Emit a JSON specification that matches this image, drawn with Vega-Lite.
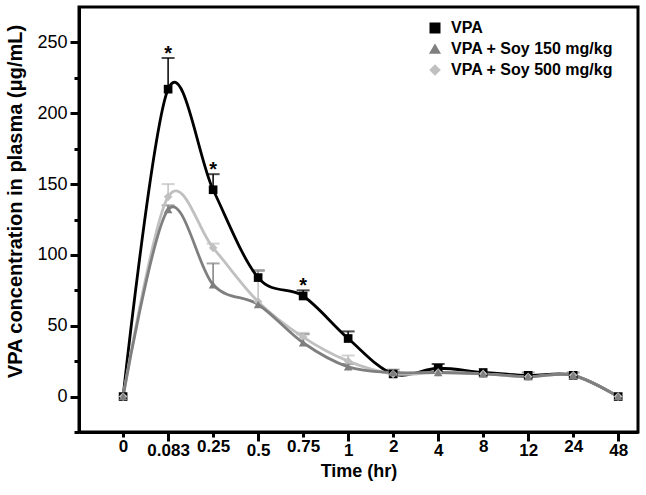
{
  "$schema": "https://vega.github.io/schema/vega-lite/v6.json",
  "width": 559,
  "height": 425,
  "autosize": {"type": "none"},
  "padding": {"left": 79, "top": 7, "right": 8, "bottom": 63},
  "background": "white",
  "config": {
    "font": "Liberation Sans",
    "view": {"stroke": "black", "strokeWidth": 3},
    "axis": {"grid": false, "domainColor": "black", "domainWidth": 3, "tickColor": "black", "tickWidth": 3, "labelColor": "black", "titleColor": "black"}
  },
  "data": {
    "values": [
      {"group": "VPA", "time": "0", "value": 0, "hi": null, "sig": ""},
      {"group": "VPA", "time": "0.083", "value": 217, "hi": 239, "sig": "*"},
      {"group": "VPA", "time": "0.25", "value": 146, "hi": 157, "sig": "*"},
      {"group": "VPA", "time": "0.5", "value": 84, "hi": 89, "sig": ""},
      {"group": "VPA", "time": "0.75", "value": 71, "hi": 75, "sig": "*"},
      {"group": "VPA", "time": "1", "value": 41, "hi": 46, "sig": ""},
      {"group": "VPA", "time": "2", "value": 16, "hi": 17, "sig": ""},
      {"group": "VPA", "time": "4", "value": 20, "hi": 23, "sig": ""},
      {"group": "VPA", "time": "8", "value": 17, "hi": null, "sig": ""},
      {"group": "VPA", "time": "12", "value": 15, "hi": null, "sig": ""},
      {"group": "VPA", "time": "24", "value": 15, "hi": null, "sig": ""},
      {"group": "VPA", "time": "48", "value": 0, "hi": null, "sig": ""},
      {"group": "VPA + Soy 500 mg/kg", "time": "0", "value": 0, "hi": null, "sig": ""},
      {"group": "VPA + Soy 500 mg/kg", "time": "0.083", "value": 141, "hi": 150, "sig": ""},
      {"group": "VPA + Soy 500 mg/kg", "time": "0.25", "value": 105, "hi": 108, "sig": ""},
      {"group": "VPA + Soy 500 mg/kg", "time": "0.5", "value": 67, "hi": 89, "sig": ""},
      {"group": "VPA + Soy 500 mg/kg", "time": "0.75", "value": 42, "hi": 45, "sig": ""},
      {"group": "VPA + Soy 500 mg/kg", "time": "1", "value": 25, "hi": 29, "sig": ""},
      {"group": "VPA + Soy 500 mg/kg", "time": "2", "value": 16, "hi": null, "sig": ""},
      {"group": "VPA + Soy 500 mg/kg", "time": "4", "value": 17, "hi": null, "sig": ""},
      {"group": "VPA + Soy 500 mg/kg", "time": "8", "value": 16, "hi": null, "sig": ""},
      {"group": "VPA + Soy 500 mg/kg", "time": "12", "value": 14, "hi": null, "sig": ""},
      {"group": "VPA + Soy 500 mg/kg", "time": "24", "value": 15, "hi": null, "sig": ""},
      {"group": "VPA + Soy 500 mg/kg", "time": "48", "value": 0, "hi": null, "sig": ""},
      {"group": "VPA + Soy 150 mg/kg", "time": "0", "value": 0, "hi": null, "sig": ""},
      {"group": "VPA + Soy 150 mg/kg", "time": "0.083", "value": 132, "hi": 135, "sig": ""},
      {"group": "VPA + Soy 150 mg/kg", "time": "0.25", "value": 79, "hi": 94, "sig": ""},
      {"group": "VPA + Soy 150 mg/kg", "time": "0.5", "value": 65, "hi": null, "sig": ""},
      {"group": "VPA + Soy 150 mg/kg", "time": "0.75", "value": 38, "hi": 44, "sig": ""},
      {"group": "VPA + Soy 150 mg/kg", "time": "1", "value": 21, "hi": 23, "sig": ""},
      {"group": "VPA + Soy 150 mg/kg", "time": "2", "value": 17, "hi": 19, "sig": ""},
      {"group": "VPA + Soy 150 mg/kg", "time": "4", "value": 17, "hi": null, "sig": ""},
      {"group": "VPA + Soy 150 mg/kg", "time": "8", "value": 16, "hi": null, "sig": ""},
      {"group": "VPA + Soy 150 mg/kg", "time": "12", "value": 14, "hi": 17, "sig": ""},
      {"group": "VPA + Soy 150 mg/kg", "time": "24", "value": 15, "hi": 17, "sig": ""},
      {"group": "VPA + Soy 150 mg/kg", "time": "48", "value": 0, "hi": null, "sig": ""}
    ]
  },
  "encoding": {
    "x": {
      "field": "time", "type": "ordinal",
      "sort": ["0", "0.083", "0.25", "0.5", "0.75", "1", "2", "4", "8", "12", "24", "48"],
      "scale": {"type": "point", "padding": 0.71, "align": 0.69},
      "axis": {
        "title": "Time (hr)", "labelAngle": 0, "labelFontSize": 17, "labelFontWeight": "bold",
        "labelPadding": 1,
        "tickSize": {"condition": {"test": "indexof(['0.083','0.5','1','4','12','48'], datum.value) >= 0", "value": 9}, "value": 5},
        "titleFontSize": 18, "titleFontWeight": "bold", "titlePadding": 4
      }
    },
    "y": {
      "field": "value", "type": "quantitative",
      "scale": {"domain": [-25, 275], "nice": false, "zero": false},
      "axis": {
        "title": "VPA concentration in plasma (μg/mL)",
        "values": [-25, 0, 25, 50, 75, 100, 125, 150, 175, 200, 225, 250],
        "labelExpr": "datum.value % 50 === 0 ? datum.label : ''",
        "labelFontSize": 18, "labelFontWeight": "normal", "labelPadding": 3,
        "tickSize": {"condition": {"test": "datum.value % 50 === 0", "value": 9}, "value": 5},
        "titleFontSize": 20, "titleFontWeight": "bold", "titleX": -54, "titleY": 194
      }
    },
    "color": {
      "field": "group", "type": "nominal",
      "scale": {"domain": ["VPA", "VPA + Soy 150 mg/kg", "VPA + Soy 500 mg/kg"], "range": ["#000000", "#7f7f7f", "#c0c0c0"]},
      "legend": {
        "title": null, "orient": "none", "legendX": 348, "legendY": 13,
        "labelFontSize": 16, "labelFontWeight": "bold", "labelColor": "black", "labelLimit": 400,
        "symbolSize": 90, "symbolOpacity": 1, "rowPadding": 5, "labelOffset": 8
      }
    }
  },
  "layer": [
    {
      "transform": [{"filter": "datum.hi != null"}],
      "mark": {"type": "rule", "strokeWidth": 1.5},
      "encoding": {"y2": {"field": "hi"}}
    },
    {
      "transform": [{"filter": "datum.hi != null"}],
      "mark": {"type": "tick", "thickness": 2, "size": 13, "orient": "horizontal"},
      "encoding": {"y": {"field": "hi", "type": "quantitative"}}
    },
    {
      "mark": {"type": "line", "interpolate": "cardinal", "strokeWidth": 2.8}
    },
    {
      "mark": {"type": "point", "filled": true, "opacity": 1, "size": 75},
      "encoding": {
        "shape": {"field": "group", "type": "nominal", "scale": {"domain": ["VPA", "VPA + Soy 150 mg/kg", "VPA + Soy 500 mg/kg"], "range": ["square", "triangle-up", "diamond"]}, "legend": null}
      }
    },
    {
      "transform": [{"filter": "datum.sig == '*'"}],
      "mark": {"type": "text", "fontSize": 20, "fontWeight": "bold", "baseline": "middle", "dy": -4},
      "encoding": {"y": {"field": "hi", "type": "quantitative"}, "text": {"field": "sig"}, "color": {"value": "black"}}
    }
  ]
}
